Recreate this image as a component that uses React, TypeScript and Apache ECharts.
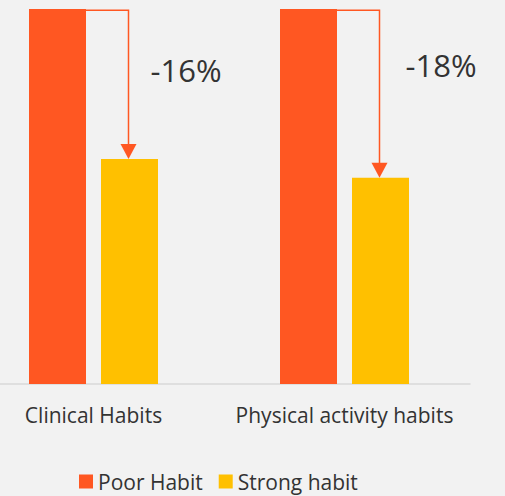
import React, { useEffect, useRef } from "react";
import * as echarts from "echarts";

const categories = ["Clinical Habits", "Physical activity habits"];
const poorHabit = [40, 40];
const strongHabit = [24, 22];
const changeLabels = ["-16%", "-18%"];
const seriesNames = ["Poor Habit", "Strong habit"];

const POOR = "#FF5722";
const STRONG = "#FFC000";
const FONT = "'Open Sans', 'Noto Sans', sans-serif";
const BAR_W = 57;
const GAP = 15;
const labelDX = [57, 61];
const labelY = [70, 65];

export default function App() {
  const ref = useRef<HTMLDivElement>(null);
  useEffect(() => {
    if (!ref.current) return;
    const chart = echarts.init(ref.current, undefined, { renderer: "svg" });
    const arrowData = categories.map((_, i) => [i, poorHabit[i], strongHabit[i]]);
    chart.setOption({
      animation: false,
      backgroundColor: "#F2F2F2",
      grid: { left: -32, right: 35, top: 9, bottom: 112, outerBoundsMode: "none" },
      xAxis: {
        type: "category",
        data: categories,
        axisLine: { show: true, lineStyle: { color: "#D9D9D9", width: 1.5 } },
        axisTick: { show: false },
        axisLabel: { color: "#333", fontSize: 21, fontFamily: FONT, margin: 20, interval: 0 },
      },
      yAxis: {
        type: "value",
        min: 0,
        max: 40,
        show: false,
        splitLine: { show: false },
      },
      legend: {
        data: seriesNames,
        left: 79,
        top: 471,
        icon: "rect",
        itemWidth: 14,
        itemHeight: 14,
        itemGap: 16,
        padding: 0,
        textStyle: { color: "#333", fontSize: 21, lineHeight: 20, fontFamily: FONT },
      },
      series: [
        {
          name: seriesNames[0],
          type: "bar",
          data: poorHabit,
          barWidth: BAR_W,
          barGap: (GAP / BAR_W) * 100 + "%",
          itemStyle: { color: POOR },
        },
        {
          name: seriesNames[1],
          type: "bar",
          data: strongHabit,
          barWidth: BAR_W,
          itemStyle: { color: STRONG },
        },
        {
          type: "custom",
          data: arrowData,
          encode: { x: 0, y: [1, 2] },
          z: 5,
          renderItem: (params: any, api: any) => {
            const i = api.value(0);
            const top = api.coord([i, api.value(1)]);
            const low = api.coord([i, api.value(2)]);
            const cx = top[0];
            const x0 = cx - GAP / 2;
            const x1 = cx + GAP / 2 + BAR_W / 2 - 1;
            const y0 = top[1] + 1.2;
            const tipY = low[1];
            const headH = 15;
            const headW = 8;
            return {
              type: "group",
              children: [
                {
                  type: "polyline",
                  shape: { points: [[x0, y0], [x1, y0], [x1, tipY - headH + 1]] },
                  style: { stroke: POOR, lineWidth: 1.5, fill: "none" },
                },
                {
                  type: "polygon",
                  shape: { points: [[x1 - headW, tipY - headH], [x1 + headW, tipY - headH], [x1, tipY]] },
                  style: { fill: POOR },
                },
                {
                  type: "text",
                  style: {
                    text: changeLabels[params.dataIndex],
                    x: cx + labelDX[params.dataIndex],
                    y: labelY[params.dataIndex],
                    fill: "#333",
                    fontSize: 31,
                    fontFamily: FONT,
                    verticalAlign: "middle",
                    align: "left",
                  },
                },
              ],
            };
          },
        },
      ],
    });
    return () => chart.dispose();
  }, []);
  return (
    <div
      ref={ref}
      style={{ position: "fixed", left: 0, top: 0, width: 505, height: 496 }}
    />
  );
}
